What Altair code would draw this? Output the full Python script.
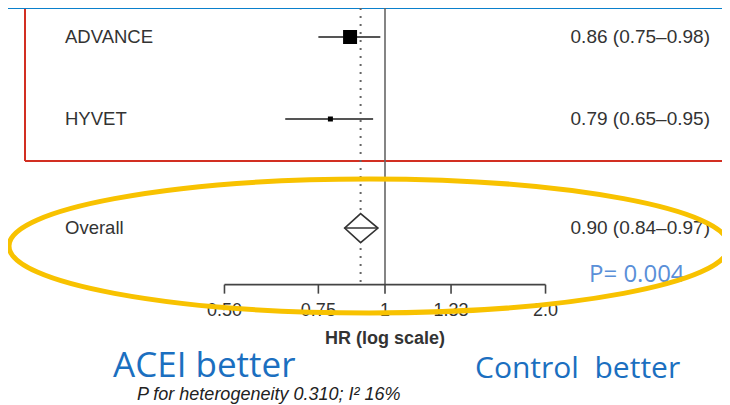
import math
import altair as alt
import pandas as pd

# ---------------- data ----------------
studies = ["ADVANCE", "HYVET"]
study_hr = [0.86, 0.79]
study_lo = [0.75, 0.65]
study_hi = [0.98, 0.95]
study_rows = [1, 2]
marker_side = [14, 5]          # drawn square side (px) ~ study weight

overall_label = "Overall"
overall_hr = 0.90
overall_lo = 0.84
overall_hi = 0.97
overall_row = 3.33

tick_values = [0.5, 0.75, 1.0, 1.33, 2.0]
tick_labels = ["0.50", "0.75", "1", "1.33", "2.0"]
axis_title = "HR (log scale)"
p_overall = "P= 0.004"
heterogeneity = "P for heterogeneity 0.310; I\u00b2 16%"
left_note = "ACEI better"
right_note = "Control\u00a0 better"

# ---------------- layout ----------------
W, H = 714, 397
ROW_PX, ROW1_Y = 82.0, 29.0
AXIS_ROW = 4.02
X_ONE, PX_PER_LN = 377.0, 231.6

ydom = [1 - ROW1_Y / ROW_PX, 1 + (H - ROW1_Y) / ROW_PX]
xdom = [math.exp(-X_ONE / PX_PER_LN), math.exp((W - X_ONE) / PX_PER_LN)]
xs = alt.Scale(type="log", domain=xdom, nice=False, zero=False)
ys = alt.Scale(domain=ydom, reverse=True, nice=False, zero=False)

def X(f):
    return alt.X(f, type="quantitative", scale=xs, axis=None)

def Y(f):
    return alt.Y(f, type="quantitative", scale=ys, axis=None)

GRAY = "#333333"
LINE = "#555555"
one = alt.Data(values=[{}])

studies_df = pd.DataFrame({
    "study": studies, "hr": study_hr, "lo": study_lo, "hi": study_hi,
    "row": study_rows, "size": [s * s for s in marker_side],
})
studies_df["txt"] = [f"{h:.2f} ({l:.2f}\u2013{u:.2f})" for h, l, u in zip(study_hr, study_lo, study_hi)]

overall_df = pd.DataFrame({"study": [overall_label], "hr": [overall_hr], "lo": [overall_lo],
                           "hi": [overall_hi], "row": [overall_row],
                           "txt": [f"{overall_hr:.2f} ({overall_lo:.2f}\u2013{overall_hi:.2f})"]})
label_df = pd.concat([studies_df[["study", "row", "txt"]], overall_df[["study", "row", "txt"]]])

h = 0.177
diamond_df = pd.DataFrame({"x": [overall_lo, overall_hr, overall_hi],
                           "y": [overall_row, overall_row - h, overall_row],
                           "y2": [overall_row, overall_row + h, overall_row]})

ref_df = pd.DataFrame({"x": [1.0], "top": [ydom[0]], "bot": [AXIS_ROW]})
dot_df = pd.DataFrame({"x": [overall_hr], "top": [ydom[0]], "bot": [AXIS_ROW]})
axis_df = pd.DataFrame({"x": [tick_values[0]], "x2": [tick_values[-1]], "row": [AXIS_ROW]})
ticks_df = pd.DataFrame({"x": tick_values, "lab": tick_labels,
                         "row": [AXIS_ROW] * len(tick_values),
                         "row2": [AXIS_ROW + 9 / ROW_PX] * len(tick_values),
                         "lrow": [AXIS_ROW + 26 / ROW_PX] * len(tick_values)})
title_df = pd.DataFrame({"x": [1.0], "row": [AXIS_ROW + 54 / ROW_PX], "t": [axis_title]})

layers = []

# blue slide bar and red frame
layers.append(alt.Chart(one).mark_rect(color="#0a80cc").encode(
    x=alt.value(0), x2=alt.value(W), y=alt.value(0), y2=alt.value(1)))
layers.append(alt.Chart(one).mark_rule(color="#d22f22", strokeWidth=2).encode(
    x=alt.value(17), y=alt.value(1), y2=alt.value(153)))
layers.append(alt.Chart(one).mark_rule(color="#d22f22", strokeWidth=2).encode(
    x=alt.value(17), x2=alt.value(W), y=alt.value(153)))

# reference lines
layers.append(alt.Chart(ref_df).mark_rule(color="#666666", strokeWidth=1.6).encode(
    x=X("x"), y=Y("top"), y2="bot"))
layers.append(alt.Chart(dot_df).mark_rule(color="#666666", strokeWidth=2, strokeDash=[2, 6]).encode(
    x=X("x"), y=Y("top"), y2="bot"))

# study CIs and squares
layers.append(alt.Chart(studies_df).mark_rule(color=LINE, strokeWidth=2).encode(
    x=X("lo"), x2="hi", y=Y("row")))
layers.append(alt.Chart(studies_df).mark_square(color="#000000", opacity=1).encode(
    x=X("hr"), y=Y("row"), size=alt.Size("size:Q", scale=None, legend=None)))

# overall diamond
layers.append(alt.Chart(diamond_df).mark_area(fill="white", stroke="#333333", strokeWidth=1.6,
                                              orient="vertical", fillOpacity=1).encode(
    x=X("x"), y=Y("y"), y2="y2"))
layers.append(alt.Chart(overall_df).mark_rule(color="#333333", strokeWidth=1.4).encode(
    x=X("lo"), x2="hi", y=Y("row")))

# hand-drawn x axis
layers.append(alt.Chart(axis_df).mark_rule(color="#444444", strokeWidth=1.6).encode(
    x=X("x"), x2="x2", y=Y("row")))
layers.append(alt.Chart(ticks_df).mark_rule(color="#444444", strokeWidth=1.6).encode(
    x=X("x"), y=Y("row"), y2="row2"))
layers.append(alt.Chart(ticks_df).mark_text(font="Liberation Sans", fontSize=18, color=GRAY,
                                            baseline="middle", align="center").encode(
    x=X("x"), y=Y("lrow"), text="lab:N"))
layers.append(alt.Chart(title_df).mark_text(font="Liberation Sans", fontSize=18, fontWeight="bold",
                                            color=GRAY, baseline="middle", align="center").encode(
    x=X("x"), y=Y("row"), text="t:N"))

# row labels and estimates
layers.append(alt.Chart(label_df).mark_text(font="Liberation Sans", fontSize=18.5, color=GRAY,
                                            align="left", baseline="middle").encode(
    x=alt.value(57), y=Y("row"), text="study:N"))
layers.append(alt.Chart(label_df).mark_text(font="Liberation Sans", fontSize=19, color=GRAY,
                                            align="right", baseline="middle").encode(
    x=alt.value(702), y=Y("row"), text="txt:N"))

# slide annotations
layers.append(alt.Chart(one).mark_text(font="Open Sans", fontSize=24, color="#5a8fd8",
                                       align="left", baseline="alphabetic").encode(
    x=alt.value(581), y=alt.value(274), text=alt.value(p_overall)))
layers.append(alt.Chart(one).mark_text(font="Open Sans", fontSize=35, color="#1b6fc0",
                                       align="left", baseline="alphabetic").encode(
    x=alt.value(105), y=alt.value(369), text=alt.value(left_note)))
layers.append(alt.Chart(one).mark_text(font="Open Sans", fontSize=30, color="#1b6fc0",
                                       align="left", baseline="alphabetic").encode(
    x=alt.value(467), y=alt.value(370), text=alt.value(right_note)))
layers.append(alt.Chart(one).mark_text(font="Liberation Sans", fontSize=18, fontStyle="italic",
                                       color="#222222", align="left", baseline="alphabetic").encode(
    x=alt.value(129), y=alt.value(392), text=alt.value(heterogeneity)))

# yellow ellipse
b, k = 66.7 / 358.5, 0.5523
kb = k * b
ellipse_path = (f"M-1,0C-1,{-kb:.4f},{-k},{-b:.4f},0,{-b:.4f}"
                f"C{k},{-b:.4f},1,{-kb:.4f},1,0"
                f"C1,{kb:.4f},{k},{b:.4f},0,{b:.4f}"
                f"C{-k},{b:.4f},-1,{kb:.4f},-1,0Z")
layers.append(alt.Chart(one).mark_point(shape=ellipse_path, filled=False, stroke="#f8c200",
                                        strokeWidth=5, opacity=1, size=720 * 720).encode(
    x=alt.value(361), y=alt.value(238)))

chart = alt.layer(*layers).properties(
    width=W, height=H, padding=0,
    autosize=alt.AutoSizeParams(type="none"),
).configure_view(stroke=None)

chart.save("out.html", embed_options={"renderer": "svg", "actions": False})
